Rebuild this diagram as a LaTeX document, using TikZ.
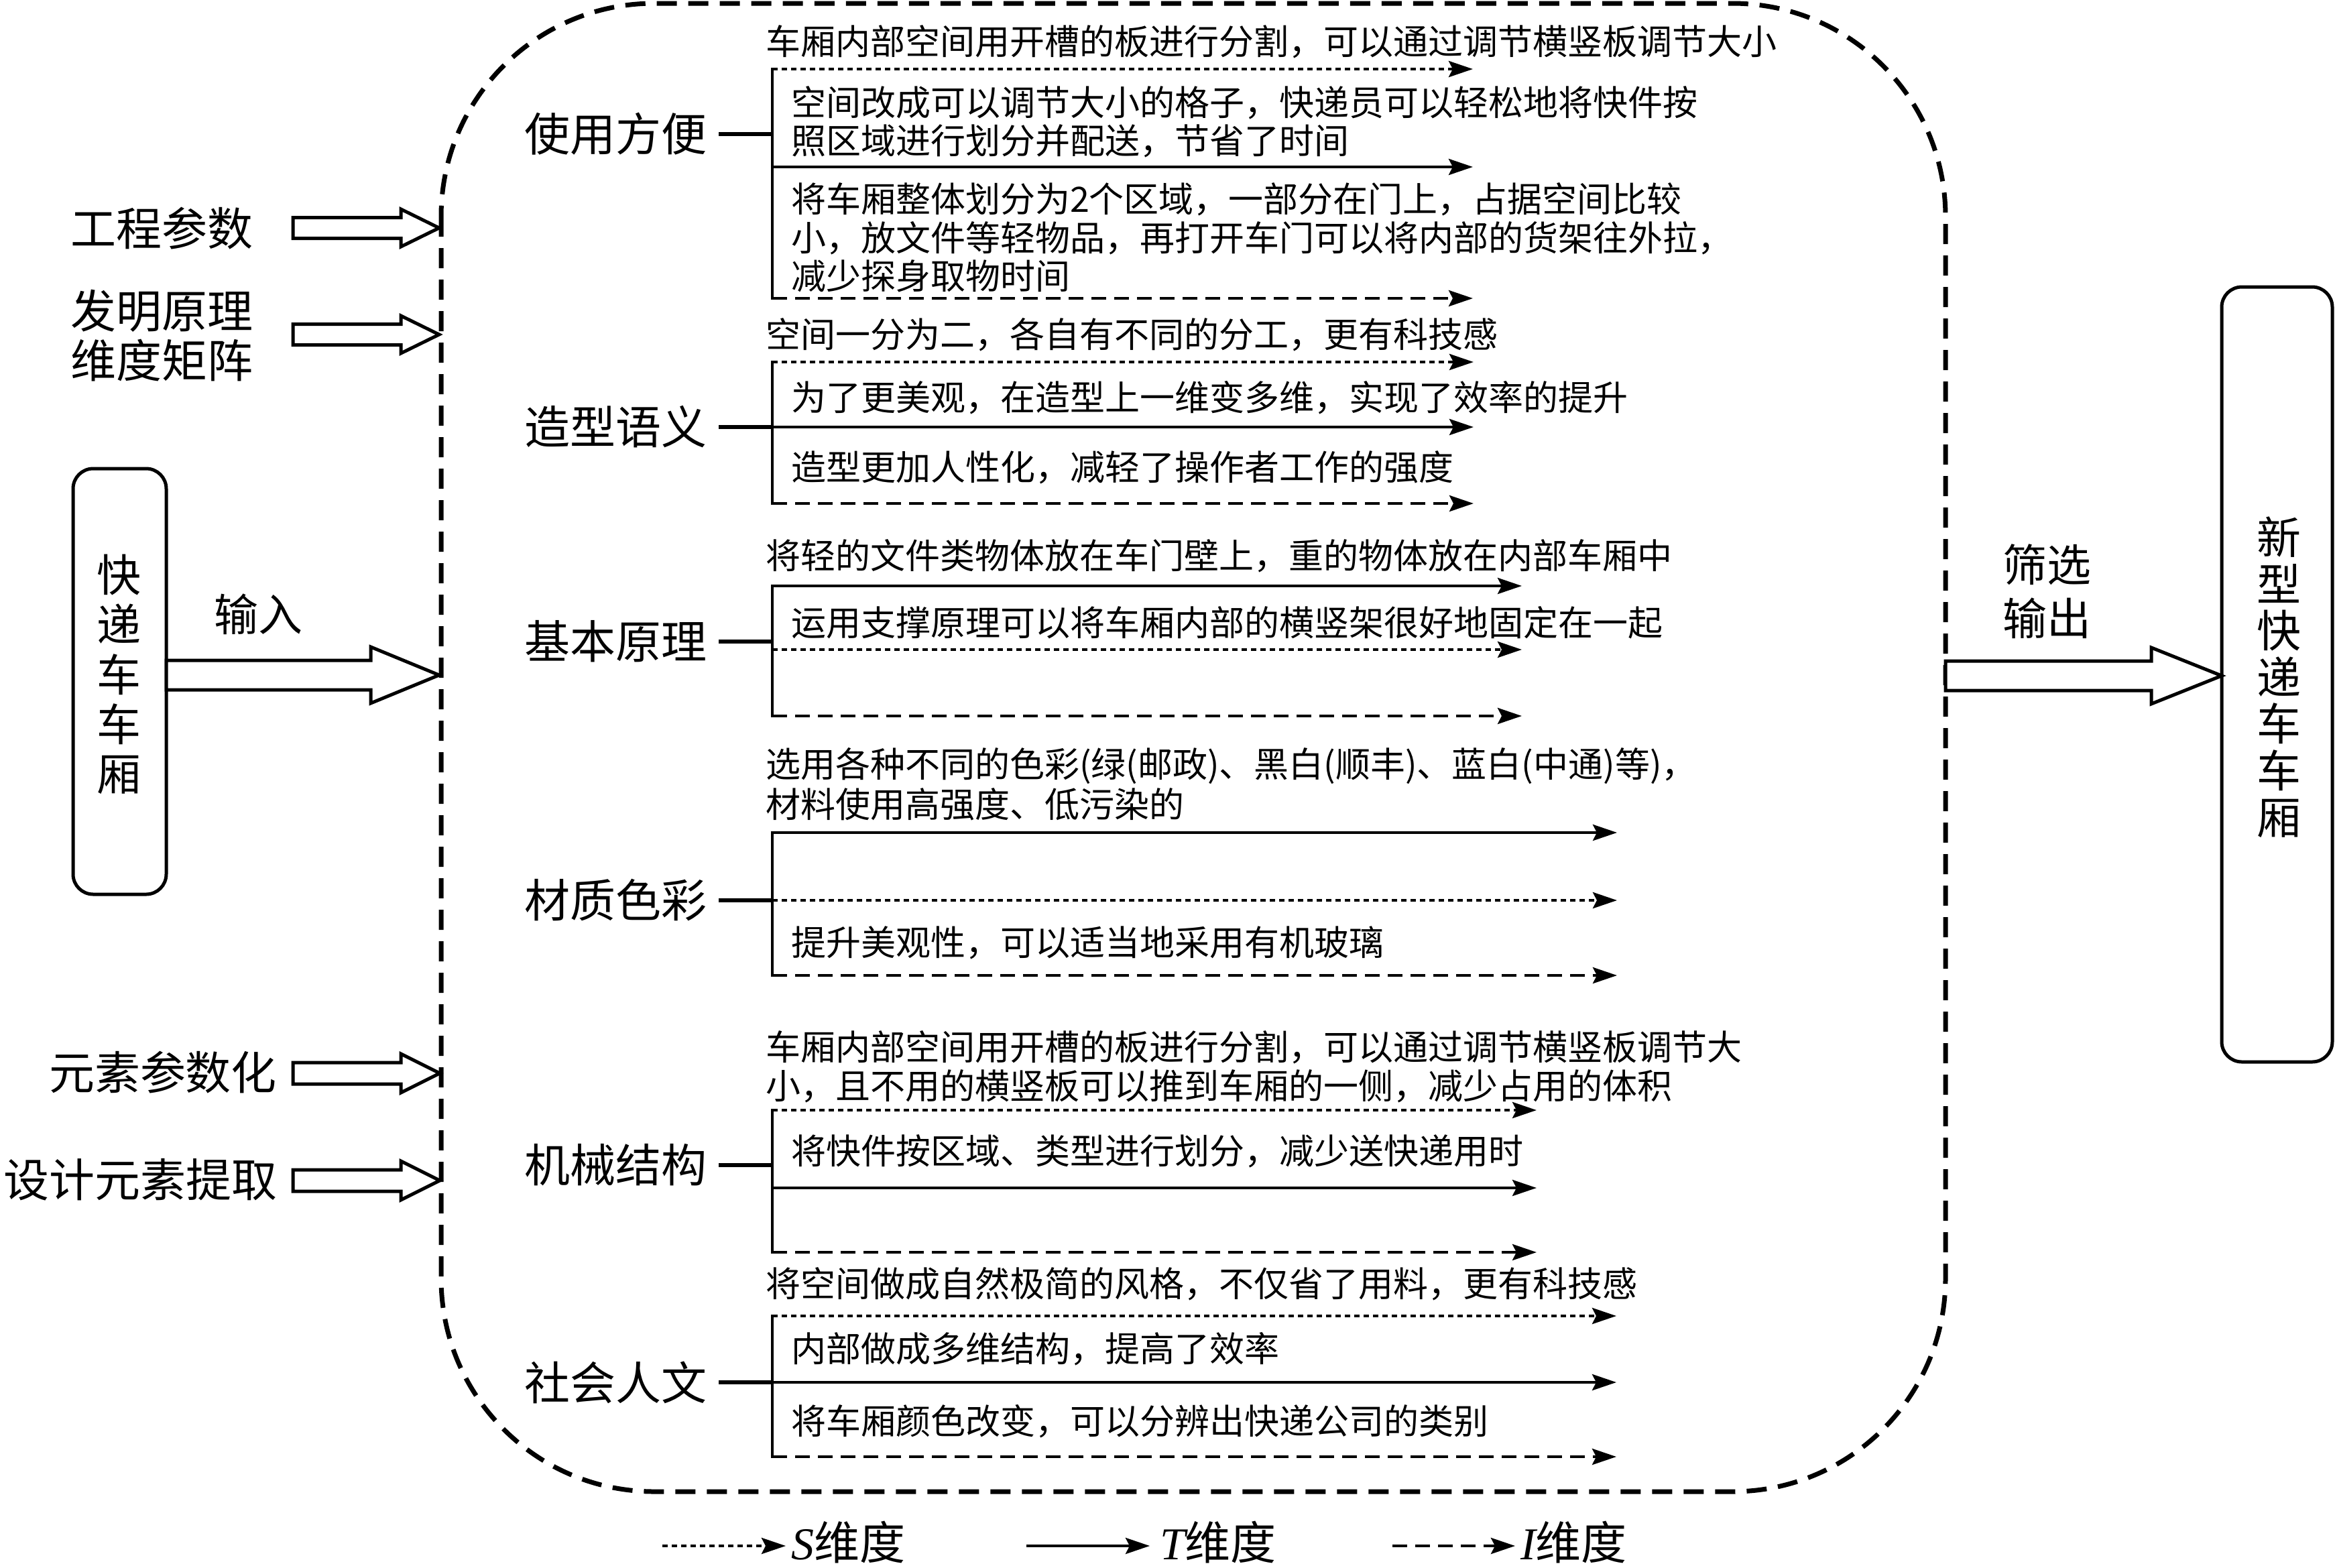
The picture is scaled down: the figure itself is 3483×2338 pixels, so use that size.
\documentclass[tikz,border=0pt]{standalone}
\usepackage{fontspec}
\setmainfont{Noto Sans CJK SC}
\newfontfamily\latinserif{Liberation Serif}
\usetikzlibrary{arrows.meta}
\tikzset{
 every node/.style={inner sep=0pt, outer sep=0pt},
 body/.style={anchor=west, font=\fontsize{13}{15}\selectfont},
 big/.style={font=\fontsize{17}{20}\selectfont},
 legend/.style={anchor=west, font=\fontsize{17}{20}\selectfont, text height=0.8em, text depth=0em},
 cat/.style={anchor=west, font=\fontsize{17}{20}\selectfont, inner xsep=4.5pt, inner ysep=0pt},
 tarr/.style={line width=1.1pt, -{Stealth[length=9pt,width=6pt,inset=1.5pt]}},
 sdim/.style={tarr, dash pattern=on 2pt off 1.5pt},
 tdim/.style={tarr},
 idim/.style={tarr, dash pattern=on 5.5pt off 3pt},
 brace/.style={line width=1.1pt},
 catline/.style={line width=1.3pt},
 hollow/.style={line width=1.25pt, fill=white, line join=miter},
 roundbox/.style={draw, line width=1.25pt, rounded corners=7.5pt},
 bigbox/.style={line width=1.75pt, dash pattern=on 7.5pt off 4.25pt, rounded corners=79.5pt},
}
\newcommand{\harrow}[6]{\draw[hollow] (#1,#4-#5) -- (#2,#4-#5) -- (#2,#4-#6) -- (#3,#4) -- (#2,#4+#6) -- (#2,#4+#5) -- (#1,#4+#5) -- cycle;}
\newcommand{\tipx}{2200}
\newcommand{\grp}[9]{%
 \node[cat] (c#1) at (764,#3) {#2};
 \coordinate (bc#1) at (1152,#3);
 \coordinate (ba#1) at (1152,#4);
 \coordinate (bb#1) at (1152,#5);
 \coordinate (bd#1) at (1152,#6);
 \coordinate (ea#1) at (\tipx,#4);
 \coordinate (eb#1) at (\tipx,#5);
 \coordinate (ed#1) at (\tipx,#6);
 \draw[catline] (c#1.east) -- (bc#1);
 \draw[brace, line cap=rect] (ba#1) -- (bd#1);
 \draw[#7] (ba#1) -- (ea#1);
 \draw[#8] (bb#1) -- (eb#1);
 \draw[#9] (bd#1) -- (ed#1);
}
\begin{document}
\begin{tikzpicture}[x=0.25pt,y=-0.25pt]
\useasboundingbox (0,0) rectangle (3483,2338);
% big dashed frame
\draw[bigbox] (658,5) rectangle (2902,2225);

% left inputs
\node[big] (gc) at (242,341) {工程参数};
\node[big] (fm1) at (242,464) {发明原理};
\node[big] (fm2) at (242,538) {维度矩阵};
\node[big] (ys) at (243,1600) {元素参数化};
\node[big] (sj) at (210,1760) {设计元素提取};
\harrow{437}{598}{655}{340}{15.5}{28}
\harrow{437}{598}{655}{499}{15.5}{28}
\harrow{437}{598}{656}{1601}{16}{29}
\harrow{437}{598}{656}{1761}{16}{29}

% input box
\node[roundbox, minimum width=34.75pt, minimum height=158.75pt] (kd) at (178.5,1016.5) {};
\node[font=\fontsize{16.5}{18.6}\selectfont, align=center] (kdt) at (177,1006) {快\\递\\车\\车\\厢};
\harrow{248}{553}{655}{1007}{22}{42}
\node[font=\fontsize{16.5}{20}\selectfont] (sr) at (385,916) {输入};

% output
\node[roundbox, minimum width=41.25pt, minimum height=289pt] (xx) at (3396.5,1006) {};
\node[font=\fontsize{16.5}{17.4}\selectfont, align=center] (xxt) at (3399,1010) {新\\型\\快\\递\\车\\车\\厢};
\harrow{2902}{3209}{3314}{1008}{22}{42}
\node[font=\fontsize{16.5}{20}\selectfont, align=center] (sx) at (3053,882) {筛选\\输出};

% group 1
\renewcommand{\tipx}{2197}
\grp{1}{使用方便}{200}{103}{249}{445}{sdim}{tdim}{idim}
\node[body] (t1a) at (1142,62) {车厢内部空间用开槽的板进行分割，可以通过调节横竖板调节大小};
\node[body] (t1b) at (1180,153) {空间改成可以调节大小的格子，快递员可以轻松地将快件按};
\node[body] (t1c) at (1180,210) {照区域进行划分并配送，节省了时间};
\node[body] (t1d) at (1180,297) {将车厢整体划分为2个区域，一部分在门上，占据空间比较};
\node[body] (t1e) at (1180,355) {小，放文件等轻物品，再打开车门可以将内部的货架往外拉，};
\node[body] (t1f) at (1180,412) {减少探身取物时间};

% group 2
\renewcommand{\tipx}{2198}
\grp{2}{造型语义}{637}{540}{637}{751}{sdim}{tdim}{idim}
\node[body] (t2a) at (1142,499) {空间一分为二，各自有不同的分工，更有科技感};
\node[body] (t2b) at (1180,593) {为了更美观，在造型上一维变多维，实现了效率的提升};
\node[body] (t2c) at (1180,697) {造型更加人性化，减轻了操作者工作的强度};

% group 3
\renewcommand{\tipx}{2270}
\grp{3}{基本原理}{957}{874}{969}{1068}{tdim}{sdim}{idim}
\node[body] (t3a) at (1142,829) {将轻的文件类物体放在车门壁上，重的物体放在内部车厢中};
\node[body] (t3b) at (1180,929) {运用支撑原理可以将车厢内部的横竖架很好地固定在一起};

% group 4
\renewcommand{\tipx}{2412}
\grp{4}{材质色彩}{1343}{1242}{1343}{1455}{tdim}{sdim}{idim}
\node[body] (t4a) at (1142,1143) {选用各种不同的色彩(绿(邮政)、黑白(顺丰)、蓝白(中通)等)，};
\node[body] (t4b) at (1142,1200) {材料使用高强度、低污染的};
\node[body] (t4c) at (1180,1406) {提升美观性，可以适当地采用有机玻璃};

% group 5
\renewcommand{\tipx}{2292}
\grp{5}{机械结构}{1738}{1656}{1772}{1868}{sdim}{tdim}{idim}
\node[body] (t5a) at (1142,1562) {车厢内部空间用开槽的板进行分割，可以通过调节横竖板调节大};
\node[body] (t5b) at (1142,1620) {小，且不用的横竖板可以推到车厢的一侧，减少占用的体积};
\node[body] (t5c) at (1180,1717) {将快件按区域、类型进行划分，减少送快递用时};

% group 6
\renewcommand{\tipx}{2411}
\grp{6}{社会人文}{2062}{1963}{2062}{2173}{sdim}{tdim}{idim}
\node[body] (t6a) at (1142,1915) {将空间做成自然极简的风格，不仅省了用料，更有科技感};
\node[body] (t6b) at (1180,2012) {内部做成多维结构，提高了效率};
\node[body] (t6c) at (1180,2120) {将车厢颜色改变，可以分辨出快递公司的类别};

% legend
\coordinate (ls0) at (988,2306); \coordinate (ls1) at (1172,2306);
\coordinate (lt0) at (1531,2306); \coordinate (lt1) at (1715,2306);
\coordinate (li0) at (2077,2306); \coordinate (li1) at (2260,2306);
\draw[sdim] (ls0) -- (ls1);
\draw[tdim] (lt0) -- (lt1);
\draw[idim] (li0) -- (li1);
\node[legend] (lS) at (1180,2310) {{\latinserif\itshape S}维度};
\node[legend] (lT) at (1730,2310) {{\latinserif\itshape T}维度};
\node[legend] (lI) at (2268,2310) {{\latinserif\itshape I}维度};
\end{tikzpicture}
\end{document}
